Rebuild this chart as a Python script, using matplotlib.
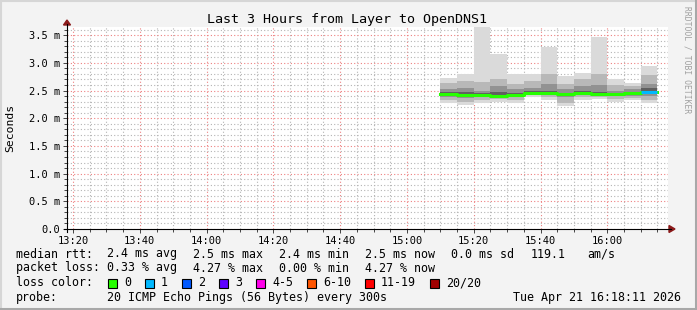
import matplotlib
matplotlib.use('Agg')
import matplotlib.pyplot as plt
from matplotlib.patches import Rectangle, Polygon
from matplotlib.ticker import MultipleLocator
import numpy as np

# ── Data ─────────────────────────────────────────────────────────────────────
title = 'Last 3 Hours from Layer to OpenDNS1'
y_label = 'Seconds'

# 5-minute bins (start time of each bin)
bin_start = ['15:10', '15:15', '15:20', '15:25', '15:30', '15:35', '15:40',
             '15:45', '15:50', '15:55', '16:00', '16:05', '16:10']
# ping distribution per bin in ms (outer -> inner quantiles)
ping_min = [2.28, 2.24, 2.28, 2.30, 2.28, 2.38, 2.33, 2.22, 2.33, 2.34, 2.30, 2.33, 2.27]
ping_q10 = [2.33, 2.30, 2.33, 2.34, 2.32, 2.41, 2.38, 2.28, 2.38, 2.38, 2.35, 2.36, 2.33]
ping_q25 = [2.39, 2.37, 2.38, 2.37, 2.38, 2.43, 2.42, 2.38, 2.42, 2.42, 2.40, 2.40, 2.40]
ping_q40 = [2.42, 2.40, 2.40, 2.38, 2.40, 2.45, 2.44, 2.41, 2.44, 2.43, 2.42, 2.44, 2.45]
median = [2.44, 2.42, 2.42, 2.40, 2.42, 2.46, 2.46, 2.43, 2.46, 2.44, 2.43, 2.46, 2.48]
ping_q60 = [2.47, 2.47, 2.45, 2.47, 2.46, 2.49, 2.50, 2.46, 2.49, 2.48, 2.45, 2.48, 2.55]
ping_q75 = [2.52, 2.55, 2.50, 2.58, 2.52, 2.55, 2.62, 2.52, 2.58, 2.60, 2.50, 2.52, 2.62]
ping_q90 = [2.64, 2.68, 2.65, 2.70, 2.62, 2.68, 2.80, 2.62, 2.70, 2.80, 2.60, 2.58, 2.78]
ping_max = [2.72, 2.80, 3.64, 3.16, 2.80, 2.80, 3.29, 2.76, 2.82, 3.46, 2.70, 2.64, 2.94]
loss_count = [0, 0, 0, 0, 0, 0, 0, 0, 0, 0, 0, 0, 1]

x_ticks = ['13:20', '13:40', '14:00', '14:20', '14:40', '15:00', '15:20', '15:40', '16:00']
y_ticks = [0.0, 0.5, 1.0, 1.5, 2.0, 2.5, 3.0, 3.5]

loss_labels = ['0', '1', '2', '3', '4-5', '6-10', '11-19', '20/20']
loss_colors = ['#26ff00', '#00b8ff', '#0059ff', '#5e00ff', '#ff00ea', '#ff5500', '#ff0000', '#a10000']

rtt_stats = ['2.4 ms avg', '2.5 ms max', '2.4 ms min', '2.5 ms now', '0.0 ms sd', '119.1', 'am/s']
loss_stats = ['0.33 % avg', '4.27 % max', '0.00 % min', '4.27 % now']
probe_text = '20 ICMP Echo Pings (56 Bytes) every 300s'
date_text = 'Tue Apr 21 16:18:11 2026'

t_start = '13:18:11'
t_end = '16:18:11'


def to_min(s):
    p = [int(v) for v in s.split(':')] + [0]
    return (p[0] - 13) * 60 + p[1] + p[2] / 60.0


# ── Figure ───────────────────────────────────────────────────────────────────
W, H = 697, 310
MONO = 'DejaVu Sans Mono'
fig = plt.figure(figsize=(W / 100, H / 100), dpi=100, facecolor='#f3f3f3')

L, R, T, B = 67, 668, 27, 229
ax = fig.add_axes([L / W, 1 - B / H, (R - L) / W, (B - T) / H])
ax.set_facecolor('white')
ax.set_xlim(to_min(t_start), to_min(t_end))
ax.set_ylim(0, (B - T) / 55.4)

# grid
ax.xaxis.set_major_locator(MultipleLocator(20))
ax.xaxis.set_minor_locator(MultipleLocator(5))
ax.yaxis.set_major_locator(MultipleLocator(0.5))
ax.yaxis.set_minor_locator(MultipleLocator(0.1))
ax.grid(which='minor', color='#b4b4b4', linestyle=(0, (1, 2)), linewidth=0.8)
ax.grid(which='major', color='#ee8080', linestyle=(0, (1, 2)), linewidth=0.8)
ax.set_axisbelow(True)

ax.set_xticks([to_min(t) for t in x_ticks])
ax.set_xticklabels(x_ticks, fontfamily=MONO, fontsize=7.5)
ax.set_yticks(y_ticks)
ax.set_yticklabels(['0.0'] + ['%.1f m' % v for v in y_ticks[1:]], fontfamily=MONO, fontsize=7.5)
ax.tick_params(which='major', length=3, width=0.7, pad=2, colors='#444444', labelcolor='black')
ax.tick_params(which='minor', length=2, width=0.7, colors='#444444')
for s in ax.spines.values():
    s.set_visible(False)

# smoke
x0 = np.array([to_min(t) for t in bin_start])
bands = [(ping_min, ping_max, '#dadada'),
         (ping_q10, ping_q90, '#b8b8b8'),
         (ping_q25, ping_q75, '#929292'),
         (ping_q40, ping_q60, '#606060')]
for lo, hi, c in bands:
    lo = np.array(lo)
    hi = np.array(hi)
    ax.bar(x0, hi - lo, bottom=lo, width=5, align='edge', color=c, linewidth=0, zorder=2)


# median line colored by loss
def loss_color(n):
    edges = [0, 1, 2, 3, 5, 10, 19, 20]
    for e, c in zip(edges, loss_colors):
        if n <= e:
            return c
    return loss_colors[-1]


xs = np.append(x0, x0[-1] + 5)
ys = np.append(median, median[-1])
ax.step(xs, ys, where='post', color=loss_colors[0], linewidth=2.2, zorder=3)
for xi, m, n in zip(x0, median, loss_count):
    if n > 0:
        ax.hlines(m, xi, xi + 5, color=loss_color(n), linewidth=2.2, zorder=4)

# ── Overlay in pixel coordinates ─────────────────────────────────────────────
ov = fig.add_axes([0, 0, 1, 1], facecolor='none')
ov.set_xlim(0, W)
ov.set_ylim(H, 0)
ov.axis('off')

# frame
ov.plot([0, W], [1, 1], color='#d6d6d6', lw=1.5)
ov.plot([1, 1], [0, H], color='#d6d6d6', lw=1.5)
ov.plot([W - 1.5, W - 1.5], [0, H], color='#a8a8a8', lw=2.2)
ov.plot([0, W], [H - 1.5, H - 1.5], color='#a8a8a8', lw=2.2)

# axes lines and arrows
ov.plot([L, L], [B + 3, T - 3], color='black', lw=0.8)
ov.plot([L - 3, R + 3], [B, B], color='black', lw=0.8)
ov.add_patch(Polygon([[L - 3.5, T - 2], [L + 3.5, T - 2], [L, T - 7]], color='#8b1a1a'))
ov.add_patch(Polygon([[R + 1, B - 3.5], [R + 1, B + 3.5], [R + 7, B]], color='#8b1a1a'))

ov.text(347, 19, title, ha='center', va='center', fontfamily=MONO, fontsize=9.6)
ov.text(10, (T + B) / 2, y_label, ha='center', va='center', rotation=90,
        fontfamily=MONO, fontsize=8.2)
ov.text(687, 6, 'RRDTOOL / TOBI OETIKER', ha='center', va='top', rotation=270,
        fontfamily=MONO, fontsize=5.8, color='#a0a0a0')

# legend
LF = 8.4
rows = [254, 268, 283, 297]
ov.text(16, rows[0], 'median rtt:', va='center', fontfamily=MONO, fontsize=LF)
for x, s in zip([107, 193, 279, 365, 451, 531, 587], rtt_stats):
    ov.text(x, rows[0], s, va='center', fontfamily=MONO, fontsize=LF)
ov.text(16, rows[1], 'packet loss:', va='center', fontfamily=MONO, fontsize=LF)
for x, s in zip([107, 193, 279, 365], loss_stats):
    ov.text(x, rows[1], s, va='center', fontfamily=MONO, fontsize=LF)
ov.text(16, rows[2], 'loss color:', va='center', fontfamily=MONO, fontsize=LF)
for x, s, c in zip([108, 145, 182, 219, 256, 307, 365, 430], loss_labels, loss_colors):
    ov.add_patch(Rectangle((x, rows[2] - 4.5), 9, 9, facecolor=c, edgecolor='black', lw=0.8))
    ov.text(x + 16, rows[2], s, va='center', fontfamily=MONO, fontsize=LF)
ov.text(16, rows[3], 'probe:', va='center', fontfamily=MONO, fontsize=LF)
ov.text(107, rows[3], probe_text, va='center', fontfamily=MONO, fontsize=LF)
ov.text(681, rows[3], date_text, va='center', ha='right', fontfamily=MONO, fontsize=LF)

fig.savefig('out.png', dpi=100, facecolor=fig.get_facecolor())
